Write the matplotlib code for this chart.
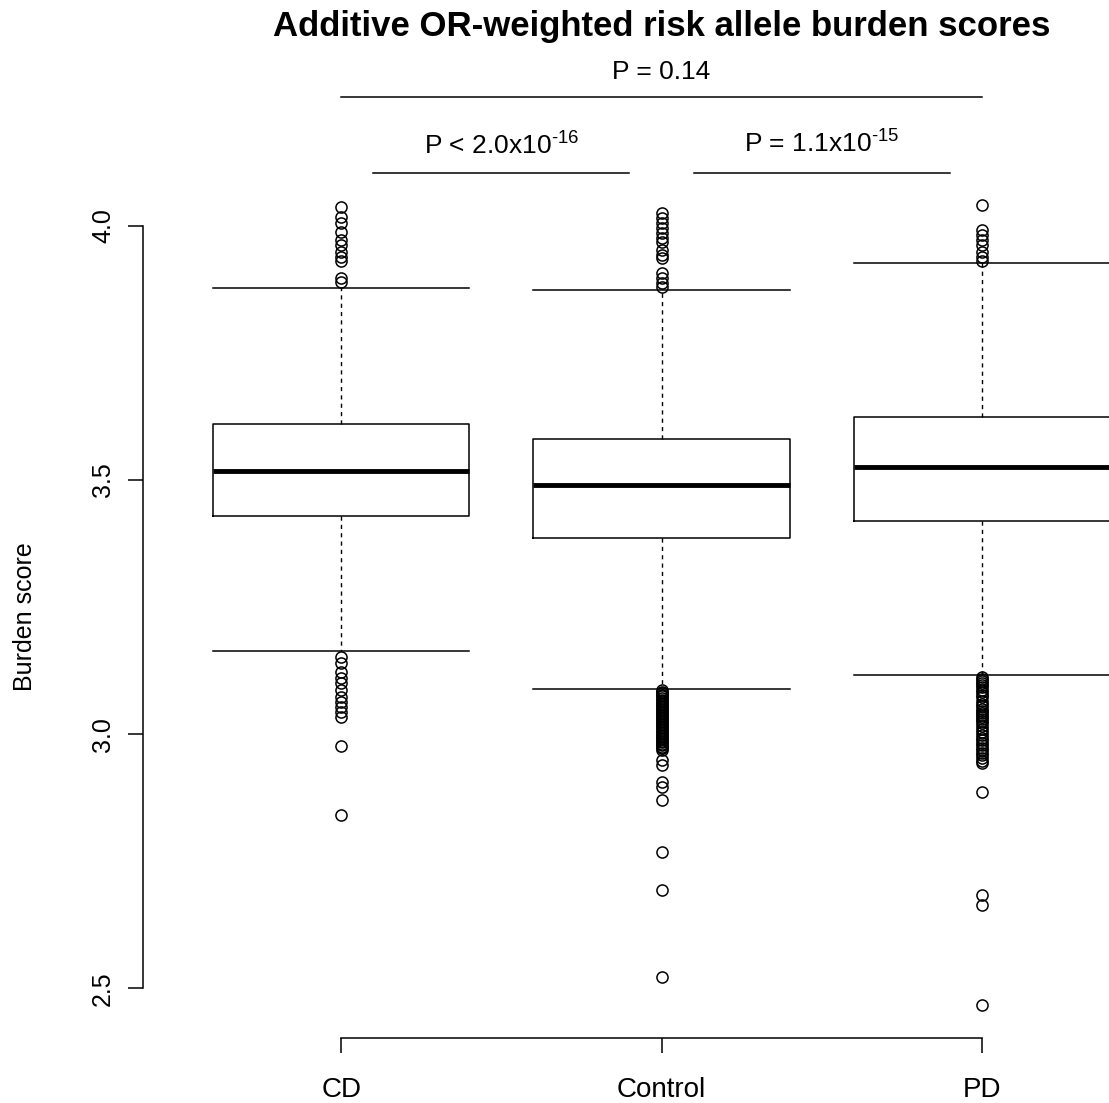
import matplotlib
matplotlib.use('Agg')
import matplotlib.pyplot as plt

plt.rcParams['font.family'] = ['Liberation Sans', 'DejaVu Sans']
plt.rcParams['mathtext.fontset'] = 'custom'
plt.rcParams['mathtext.rm'] = 'Liberation Sans'
plt.rcParams['mathtext.it'] = 'Liberation Sans:italic'
plt.rcParams['mathtext.bf'] = 'Liberation Sans:bold'

# grupos y estadisticos
grupos = ['CD', 'Control', 'PD']
bigote_sup = [3.878, 3.874, 3.927]
q3 = [3.610, 3.581, 3.624]
mediana = [3.518, 3.490, 3.526]
q1 = [3.429, 3.386, 3.419]
bigote_inf = [3.163, 3.089, 3.116]

# valores atipicos
atipicos_cd = [4.037, 4.018, 4.006, 3.988, 3.972, 3.963, 3.949, 3.939, 3.931,
               3.898, 3.890,
               3.152, 3.140, 3.122, 3.110, 3.100, 3.087, 3.073, 3.063, 3.053,
               3.043, 3.033, 2.976, 2.841]
atipicos_control = [4.026, 4.016, 4.006, 3.996, 3.986, 3.976, 3.969, 3.953,
                    3.943, 3.937, 3.907, 3.898, 3.888, 3.880,
                    3.086, 3.083, 3.080, 3.077, 3.074, 3.071, 3.068, 3.065,
                    3.062, 3.059, 3.056, 3.053, 3.050, 3.047, 3.044, 3.041,
                    3.038, 3.035, 3.032, 3.029, 3.026, 3.023, 3.020, 3.017,
                    3.014, 3.011, 3.008, 3.005, 3.002, 2.999, 2.996, 2.993,
                    2.990, 2.987, 2.984, 2.981, 2.978, 2.975, 2.972, 2.969,
                    2.949, 2.939, 2.906, 2.896, 2.870, 2.768, 2.693, 2.522]
atipicos_pd = [4.041, 3.992, 3.982, 3.972, 3.963, 3.949, 3.939, 3.931,
               3.112, 3.108, 3.104, 3.100, 3.096, 3.092, 3.087, 3.082, 3.077,
               3.072, 3.066, 3.060, 3.055, 3.050, 3.046, 3.042, 3.038, 3.034,
               3.030, 3.026, 3.021, 3.016, 3.010, 3.004, 2.998, 2.993, 2.988,
               2.983, 2.978, 2.973, 2.968, 2.963, 2.958, 2.953, 2.948, 2.944,
               2.886, 2.683, 2.663, 2.467]
atipicos = [atipicos_cd, atipicos_control, atipicos_pd]

# comparaciones (inicio, fin, texto)
comparaciones = [(1, 3, 'P = 0.14'),
                 (1.1, 1.9, 'P < 2.0x10$^{\u201016}$'),
                 (2.1, 2.9, 'P = 1.1x10$^{\u201015}$')]

stats = []
for i, g in enumerate(grupos):
    stats.append({'label': g, 'whislo': bigote_inf[i], 'q1': q1[i],
                  'med': mediana[i], 'q3': q3[i], 'whishi': bigote_sup[i],
                  'fliers': atipicos[i]})

fig = plt.figure(figsize=(11.09, 11.03), dpi=100)
ax = fig.add_axes([143 / 1109, 65 / 1103, 1037 / 1109, 865 / 1103])

ax.bxp(stats, positions=[1, 2, 3], widths=0.8, capwidths=0.8,
       boxprops=dict(color='black', linewidth=1.1),
       medianprops=dict(color='black', linewidth=3.5),
       whiskerprops=dict(color='black', linewidth=1.0, linestyle=(0, (3, 3))),
       capprops=dict(color='black', linewidth=1.1),
       flierprops=dict(marker='o', markerfacecolor='none', markeredgecolor='black',
                       markersize=8, markeredgewidth=1.1))

ax.set_xlim(0.38, 3.62)
ax.set_ylim(2.402, 4.104)
ax.set_yticks([2.5, 3.0, 3.5, 4.0])
ax.set_yticklabels(['2.5', '3.0', '3.5', '4.0'], rotation=90, va='center', fontsize=18)
ax.set_xticks([1, 2, 3])
ax.set_xticklabels(grupos, fontsize=20)
ax.tick_params(axis='y', length=11, width=1.1, pad=9)
ax.tick_params(axis='x', length=11, width=1.1, pad=17)

for s in ['top', 'right']:
    ax.spines[s].set_visible(False)
ax.spines['left'].set_bounds(2.5, 4.0)
ax.spines['bottom'].set_bounds(1, 3)
ax.spines['left'].set_linewidth(1.1)
ax.spines['bottom'].set_linewidth(1.1)

# lineas y textos de P
alturas_linea = [4.254, 4.104, 4.104]
alturas_texto = [4.289, 4.140, 4.144]
for (a, b, txt), yl, yt in zip(comparaciones, alturas_linea, alturas_texto):
    ax.plot([a, b], [yl, yl], color='black', linewidth=1.1, clip_on=False)
    ax.text((a + b) / 2, yt, txt, ha='center', va='baseline', fontsize=19)

fig.text(25 / 1109, (1103 - 617) / 1103, 'Burden score', rotation=90,
         ha='center', va='center', fontsize=18)
fig.text(662 / 1109, (1103 - 36) / 1103, 'Additive OR-weighted risk allele burden scores',
         ha='center', va='baseline', fontsize=25, fontweight='bold')

plt.savefig('out.png', dpi=100)
